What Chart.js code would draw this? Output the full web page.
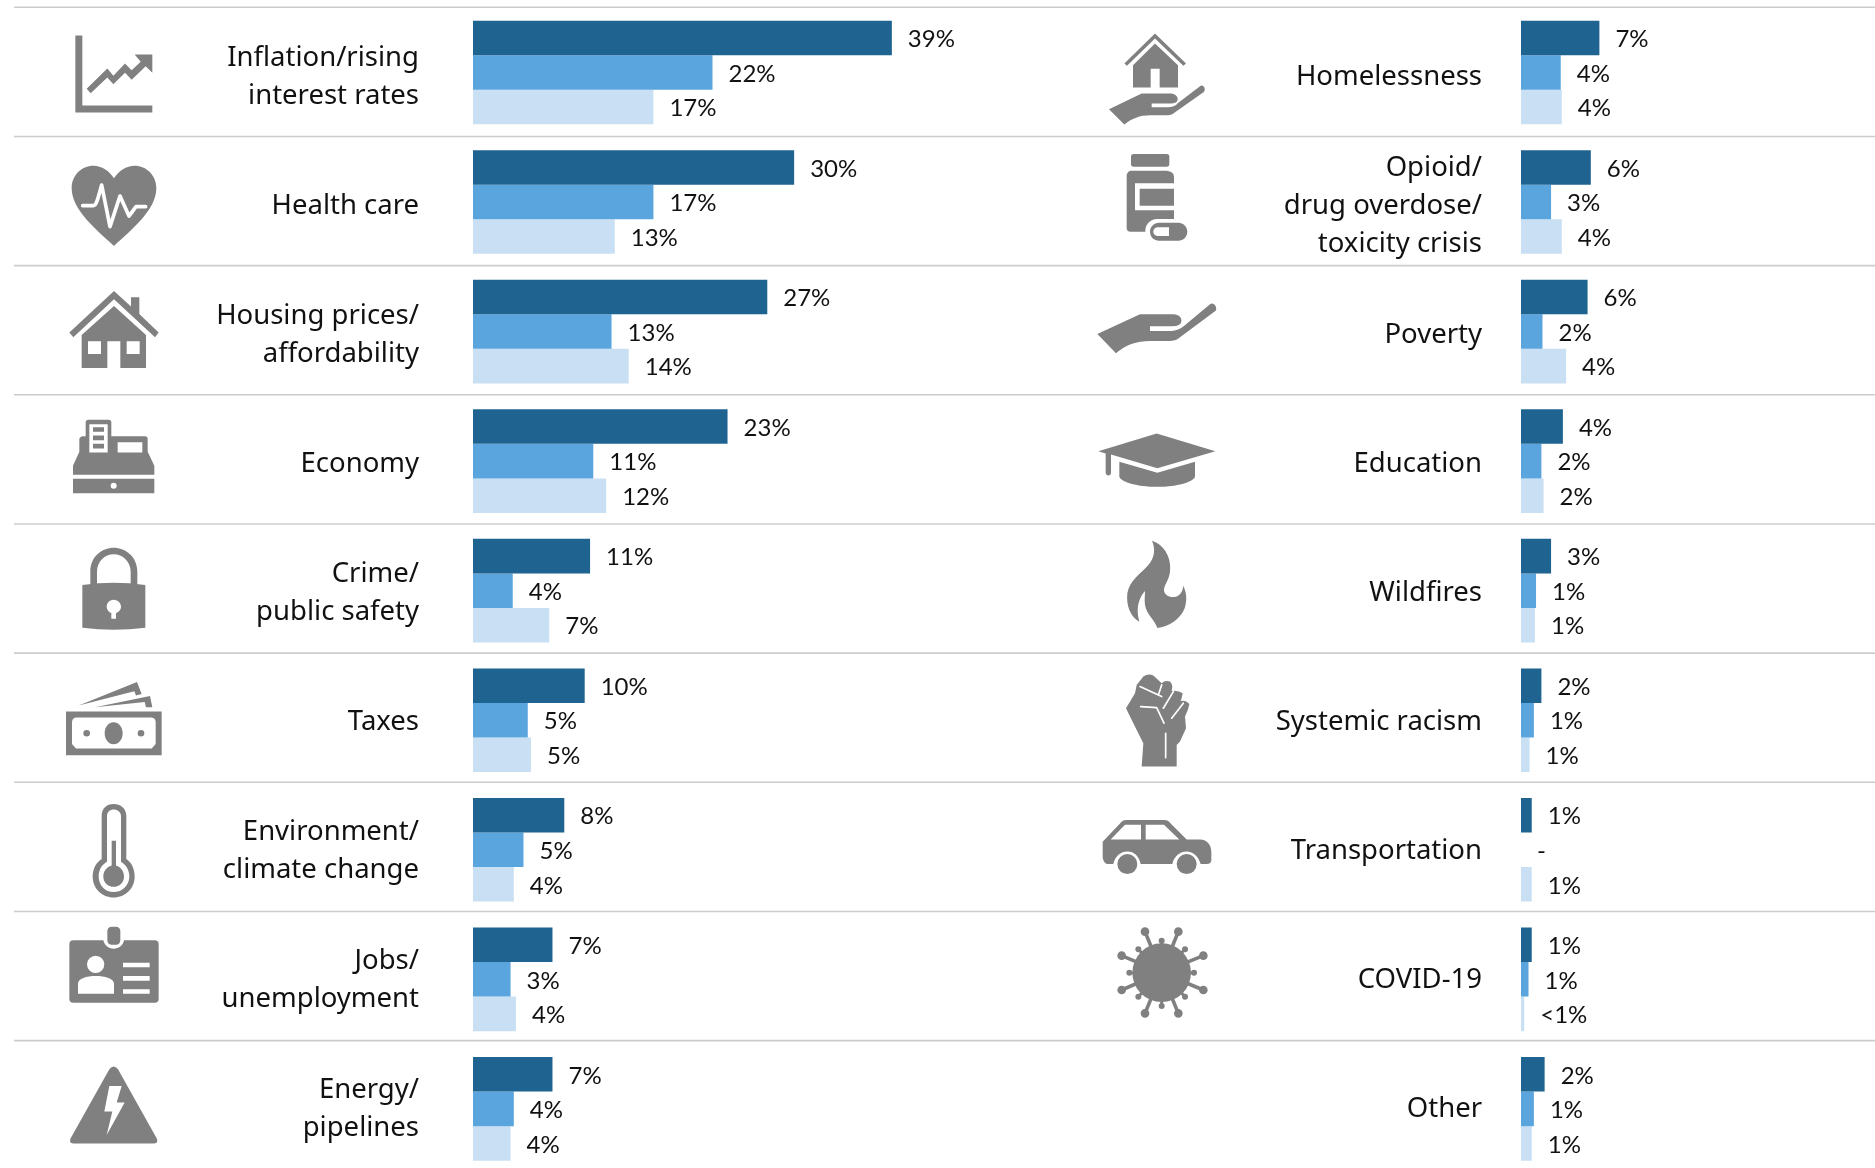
<!DOCTYPE html>
<html>
<head>
<meta charset="utf-8">
<title>Top issues</title>
<script src="https://cdn.jsdelivr.net/npm/chart.js@4"></script>
<style>
  html, body { margin: 0; padding: 0; background: #fff; overflow: hidden; }
  #wrap { position: relative; width: 1875px; height: 1168px; overflow: hidden; }
  canvas { position: absolute; top: 0; }
</style>
</head>
<body>
<div id="wrap">
  <canvas id="left" style="left:0"></canvas>
  <canvas id="right" style="left:1050px"></canvas>
</div>
<script>
// categories
var leftCategories = [['Inflation/rising', 'interest rates'], 'Health care', ['Housing prices/', 'affordability'], 'Economy',
  ['Crime/', 'public safety'], 'Taxes', ['Environment/', 'climate change'], ['Jobs/', 'unemployment'], ['Energy/', 'pipelines']];
var rightCategories = ['Homelessness', ['Opioid/', 'drug overdose/', 'toxicity crisis'], 'Poverty', 'Education', 'Wildfires',
  'Systemic racism', 'Transportation', 'COVID-19', 'Other'];

// bar lengths
var leftDark = [39, 29.9, 27.4, 23.7, 10.9, 10.4, 8.5, 7.4, 7.4];
var leftMid = [22.3, 16.8, 12.9, 11.2, 3.7, 5.1, 4.7, 3.5, 3.8];
var leftLight = [16.8, 13.2, 14.5, 12.4, 7.1, 5.4, 3.8, 4, 3.5];
var rightDark = [7.3, 6.5, 6.2, 3.9, 2.8, 1.9, 1, 1, 2.2];
var rightMid = [3.7, 2.8, 2, 1.9, 1.4, 1.2, null, 0.7, 1.2];
var rightLight = [3.8, 3.8, 4.2, 2.1, 1.3, 0.8, 1, 0.3, 1];

// printed labels
var leftDarkLabels = ['39%', '30%', '27%', '23%', '11%', '10%', '8%', '7%', '7%'];
var leftMidLabels = ['22%', '17%', '13%', '11%', '4%', '5%', '5%', '3%', '4%'];
var leftLightLabels = ['17%', '13%', '14%', '12%', '7%', '5%', '4%', '4%', '4%'];
var rightDarkLabels = ['7%', '6%', '6%', '4%', '3%', '2%', '1%', '1%', '2%'];
var rightMidLabels = ['4%', '3%', '2%', '2%', '1%', '1%', '-', '1%', '1%'];
var rightLightLabels = ['4%', '4%', '4%', '2%', '1%', '1%', '1%', '<1%', '1%'];

var leftIcons = ['chart', 'heart', 'house', 'till', 'lock', 'money', 'thermo', 'badge', 'warning'];
var rightIcons = ['homeHand', 'pills', 'hand', 'cap', 'flame', 'fist', 'car', 'virus', null];

var DARK = '#1f6391', MID = '#5ba5de', LIGHT = '#c9e0f4', GREY = '#808080';
var PX_PER_PCT = 10.74;
var ROW_H = 129.55, TOP = 7.7;
var LABEL_FONT = '"Noto Sans"';

function dot(x, y, r) {
  return 'M' + (x - r) + ' ' + y + 'a' + r + ' ' + r + ' 0 1 0 ' + (2 * r) + ' 0a' + r + ' ' + r + ' 0 1 0 ' + (-2 * r) + ' 0Z';
}

// icon shapes, traced at 3x; ox/oy is the point that sits on the row centre
var icons = {
  chart: { ox: 195, oy: 187, parts: [
    ['g', 'M76 76H97V286H307V307H76Z'],
    ['g', 'M110 236L172 175L190 197L225 160L245 180L272 155L254 133H307V188L287 168L245 209L225 188L190 222L172 202L122 249Z']] },
  heart: { ox: 195, oy: 576, parts: [
    ['g', 'M192 708C140 660 65 600 65 535C65 495 95 467 130 467C155 467 178 482 192 505C206 482 229 467 254 467C289 467 319 495 319 535C319 600 244 660 192 708Z'],
    ['w', 'M98 587H130C140 587 145 560 155 525L180 650L210 558L237 618L258 590H287', 11]] },
  house: { ox: 195, oy: 965, parts: [
    ['g', 'M58 968L192 843L243 890V862H268V912L326 968L315 982L192 868L70 982Z'],
    ['g', 'M192 888L288 975V1074H211V994H172V1074H95V975ZM114 994H153V1032H114ZM230 994H269V1032H230Z']] },
  till: { ox: 195, oy: 198, parts: [
    ['g', 'M107 82Q107 74 115 74H176Q184 74 184 82V123H285Q293 123 293 131V170L313 212V239H69V212L88 170V133Q88 125 97 123H107ZM118 87H173V172H118ZM129 96H162V110H129ZM129 121H162V135H129ZM129 146H162V160H129ZM203 141H277V172H203Z'],
    ['g', 'M69 251H313V294H69Z' + dot(191, 272, 9)]] },
  lock: { ox: 195, oy: 587, parts: [
    ['g', 'M121 570V530C121 485 155 458 191 458C227 458 262 485 262 530V570H242V530C242 500 218 478 191 478C164 478 141 500 141 530V567Z'],
    ['g', 'M97 570Q191 557 286 570V698Q191 710 97 698ZM191 614C178 614 170 625 170 635C170 645 177 651 184 654V671H198V654C205 651 213 645 213 635C213 625 204 614 191 614Z']] },
  money: { ox: 195, oy: 976, parts: [
    ['g', 'M86 932L261 861L275 897L258 902L253 889Z'],
    ['g', 'M135 937L300 903L307 937L288 937L284 921Z'],
    ['g', 'M48 950H335V1081H48ZM78 968H305Q317 970 317 982V1047L305 1061H78L66 1047V982Q66 970 78 968Z'],
    ['g', dot(110, 1015, 10) + dot(273, 1015, 10) + 'M164 1015C164 996 176 982 191 982C206 982 218 996 218 1015C218 1034 206 1048 191 1048C176 1048 164 1034 164 1015Z']] },
  thermo: { ox: 195, oy: 209, parts: [
    ['g', 'M155 108C155 85 170 72 191 72C212 72 229 85 229 108V237C245 247 254 268 254 289C254 325 226 352 191 352C156 352 128 325 128 289C128 268 138 247 155 237ZM171 108C171 95 180 88 191 88C202 88 213 95 213 108V245C228 254 238 270 238 289C238 315 217 336 191 336C165 336 146 315 146 289C146 270 155 254 171 245Z'],
    ['g', 'M185 182H198V256C212 260 222 273 222 289C222 307 208 320 191 320C174 320 160 307 160 289C160 273 170 260 185 256Z']] },
  badge: { ox: 195, oy: 598, parts: [
    ['g', 'M70 481H160C163 495 175 506 191 506C207 506 220 495 222 481H314Q326 481 326 493V656Q326 668 314 668H70Q58 668 58 656V493Q58 481 70 481Z' + dot(137, 553, 26) + 'M84 641V612C84 595 110 588 137 588C165 588 192 595 192 612V641ZM219 548H299V562H219ZM219 588H299V602H219ZM219 628H299V641H219Z'],
    ['g', 'M186 440H197Q211 440 211 454V480Q211 494 197 494H186Q172 494 172 480V454Q172 440 186 440Z']] },
  warning: { ox: 195, oy: 987, parts: [
    ['g', 'M178 868Q191 852 204 868L320 1075Q327 1090 312 1091H70Q55 1090 62 1075ZM178 918H215L200 968H224L170 1065L187 995H163Z']] },
  homeHand: { ox: 225, oy: 187, parts: [
    ['g', 'M103 160L195 70L288 160L280 167L195 85L111 167Z'],
    ['g', 'M195 100L264 165V232H209V176H182V232H129V165Z'],
    ['g', 'M57 297L155 250H240C255 250 263 258 263 267C263 274 257 279 245 280H185V291H235C252 291 258 285 265 278L330 228C338 222 346 232 344 240C342 246 338 248 335 250L250 310C245 314 240 315 235 315H180C150 315 125 325 103 343Z']] },
  pills: { ox: 225, oy: 576, parts: [
    ['g', 'M131 432H230Q238 432 238 440V462Q238 470 230 470H131Q123 470 123 462V440Q123 432 131 432Z'],
    ['g', 'M122 482H230Q252 485 252 500V520H135V601H252V627H198C178 630 165 645 166 665H122Q110 665 110 653V495Q112 484 122 482Z'],
    ['g', 'M149 536H252V587H149Z'],
    ['g', 'M207 638H265C280 638 292 650 292 665C292 680 280 692 265 692H207C192 692 180 680 180 665C180 650 192 638 207 638ZM237 652H205C195 652 190 658 190 665C190 672 195 678 205 678H237Z']] },
  hand: { ox: 225, oy: 965, parts: [
    ['g', 'M22 972L150 913H250C268 913 276 925 274 935C272 945 262 949 250 949H180V963H245C258 963 270 957 280 950L360 883C370 876 382 890 378 902L262 988C255 992 248 993 240 993H180C140 993 105 1005 78 1030Z']] },
  cap: { ox: 225, oy: 198, parts: [
    ['g', 'M25 168L200 115L376 168L202 219L63 178V232C63 244 47 244 47 232V175Z'],
    ['g', 'M88 200L202 233L315 200V243C315 258 265 275 202 275C138 275 88 258 88 243Z']] },
  flame: { ox: 225, oy: 587, parts: [
    ['g', 'M186 437C225 450 245 490 240 530C237 555 222 570 222 585C222 600 240 610 258 605C272 600 280 585 279 572C290 590 292 615 284 640C270 675 235 695 202 699C195 675 170 660 165 630C163 615 165 600 165 588C150 605 135 635 148 680C120 665 108 630 112 595C118 555 155 535 175 510C192 490 198 465 186 437Z']] },
  fist: { ox: 225, oy: 976, parts: [
    ['g', 'M160 845Q175 835 190 842L215 865Q225 855 240 860Q250 870 245 888Q265 885 278 895Q275 912 272 918Q290 915 298 928Q295 945 285 965L288 1000L270 1040L260 1050L260 1115H155L160 1045L130 985L108 940L135 895L140 870Z'],
    ['w', 'M150 875L215 905M215 870L205 900M250 890L220 940M280 925L245 970M152 935L200 938L222 985M227 1015V1088', 5]] },
  car: { ox: 225, oy: 209, parts: [
    ['g', 'M38 185L90 130Q97 120 110 120H222Q235 120 242 130L290 178H330C352 178 364 195 364 215V240Q364 252 350 252H332C325 228 310 215 290 214C270 214 252 228 247 252H152C147 228 133 214 112 214C92 214 75 228 70 252H55C45 252 38 240 38 230ZM62 178L105 134H153V178ZM167 134H222L268 178H167Z'],
    ['g', dot(112, 252, 30) + dot(290, 252, 30)]] },
  virus: { ox: 225, oy: 598, parts: [
    ['g', dot(215, 578, 88)],
    ['l', 'M215 578L165 455M215 578L265 455M215 578L95 527M215 578L340 527M215 578L95 630M215 578L340 630M215 578L165 700M215 578L265 700', 11],
    ['l', 'M215 578V482M215 578L145 508M215 578L285 508M215 578H118M215 578H312M215 578L145 650M215 578L285 650M215 578V678', 9],
    ['g', dot(165, 455, 13) + dot(265, 455, 13) + dot(95, 527, 13) + dot(340, 527, 13) + dot(95, 630, 13) + dot(340, 630, 13) + dot(165, 700, 13) + dot(265, 700, 13)],
    ['g', dot(215, 482, 9) + dot(145, 508, 9) + dot(285, 508, 9) + dot(118, 578, 9) + dot(312, 578, 9) + dot(145, 650, 9) + dot(285, 650, 9) + dot(215, 678, 9)]] }
};

function drawIcon(ctx, name, cx, cy) {
  var icon = icons[name];
  ctx.save();
  ctx.translate(cx, cy);
  ctx.scale(1 / 3, 1 / 3);
  ctx.translate(-icon.ox, -icon.oy);
  icon.parts.forEach(function (p) {
    var path = new Path2D(p[1]);
    if (p[0] === 'g') {
      ctx.fillStyle = GREY;
      ctx.fill(path, 'evenodd');
    } else {
      ctx.strokeStyle = p[0] === 'w' ? '#fff' : GREY;
      ctx.lineWidth = p[2];
      ctx.lineCap = 'round';
      ctx.lineJoin = 'round';
      ctx.stroke(path);
    }
  });
  ctx.restore();
}

// separators, icons and value labels
var decorate = {
  id: 'decorate',
  beforeDraw: function (chart) {
    // the category text sits on a slightly tighter pitch than the bars
    var y = chart.scales.y;
    y.getLabelItems().forEach(function (item, i) {
      if (item.nudged) return;
      item.nudged = true;
      item.options.translation[1] += 4.2 * (8 - i) / 8;
    });
  },
  beforeDatasetsDraw: function (chart, args, opts) {
    var ctx = chart.ctx, y = chart.scales.y;
    ctx.save();
    ctx.strokeStyle = '#cccccc';
    ctx.lineWidth = 1.6;
    for (var i = 0; i < y.ticks.length; i++) {
      var ly = y.getPixelForTick(i) - ROW_H / 2 - 0.4 - i * 0.38;
      ctx.beginPath();
      ctx.moveTo(opts.lineFrom, ly);
      ctx.lineTo(chart.width, ly);
      ctx.stroke();
    }
    ctx.restore();
    opts.icons.forEach(function (name, i) {
      if (name) drawIcon(ctx, name, opts.iconX, y.getPixelForTick(i));
    });
  },
  afterDatasetsDraw: function (chart, args, opts) {
    var ctx = chart.ctx, x = chart.scales.x;
    ctx.save();
    ctx.font = '24px Lato';
    ctx.fillStyle = '#111';
    ctx.textAlign = 'left';
    ctx.textBaseline = 'middle';
    chart.data.datasets.forEach(function (ds, d) {
      chart.getDatasetMeta(d).data.forEach(function (bar, i) {
        var v = ds.data[i] === null ? 0 : ds.data[i];
        ctx.fillText(opts.labels[d][i], x.getPixelForValue(v) + 16, bar.y + 1.5);
      });
    });
    ctx.restore();
  }
};

function makeBars(id, w, axisW, pad, categories, dark, mid, light, labels, rowIcons, iconX, lineFrom) {
  var canvas = document.getElementById(id);
  canvas.width = w;
  canvas.height = 1176;
  canvas.style.width = w + 'px';
  canvas.style.height = '1176px';
  function bars(data, colour) {
    return { data: data, backgroundColor: colour, borderWidth: 0, categoryPercentage: 0.8, barPercentage: 1 };
  }
  return new Chart(canvas.getContext('2d'), {
    type: 'bar',
    plugins: [decorate],
    data: { labels: categories, datasets: [bars(dark, DARK), bars(mid, MID), bars(light, LIGHT)] },
    options: {
      indexAxis: 'y',
      responsive: false,
      animation: false,
      layout: { padding: { top: TOP, bottom: 1176 - TOP - ROW_H * 9, left: 0, right: 0 } },
      plugins: {
        legend: { display: false },
        tooltip: { enabled: false },
        decorate: { labels: labels, icons: rowIcons, iconX: iconX, lineFrom: lineFrom }
      },
      scales: {
        x: { display: false, min: 0, max: (w - axisW) / PX_PER_PCT },
        y: {
          afterFit: function (scale) {
            scale.width = axisW;
            // multi-line first/last labels must not squeeze the plot
            scale.paddingTop = 0;
            scale.paddingBottom = 0;
          },
          grid: { display: false, drawTicks: false },
          border: { display: false },
          ticks: {
            autoSkip: false,
            padding: pad,
            color: '#111',
            font: { family: LABEL_FONT, size: 27.5, lineHeight: '38px' }
          }
        }
      }
    }
  });
}

makeBars('left', 1050, 473, 54, leftCategories, leftDark, leftMid, leftLight,
  [leftDarkLabels, leftMidLabels, leftLightLabels], leftIcons, 115, 14);
makeBars('right', 825, 471, 39, rightCategories, rightDark, rightMid, rightLight,
  [rightDarkLabels, rightMidLabels, rightLightLabels], rightIcons, 115, 0);
</script>
</body>
</html>
